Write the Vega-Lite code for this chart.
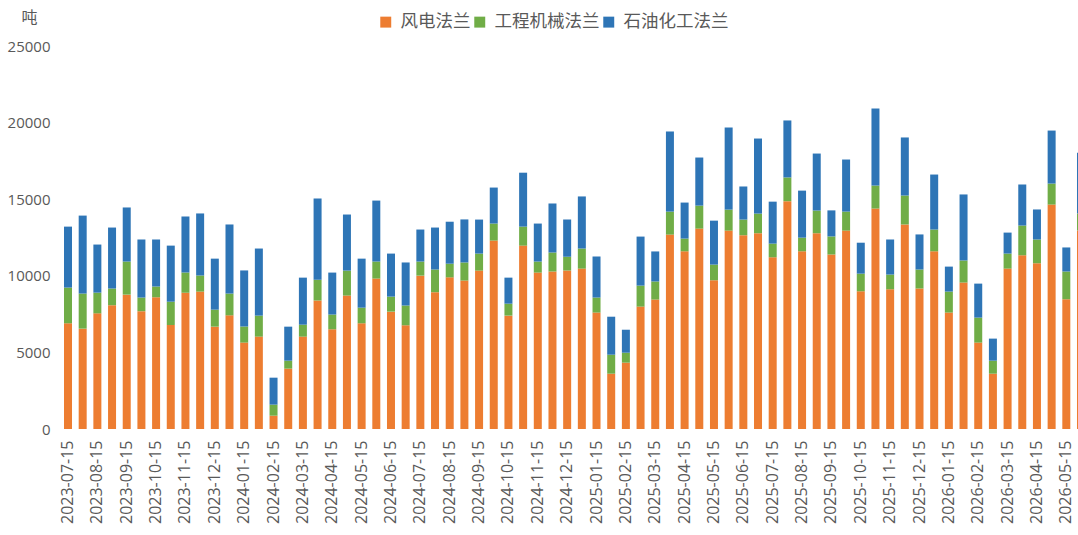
{
  "$schema": "https://vega.github.io/schema/vega-lite/v6.json",
  "autosize": {"type": "none"},
  "padding": {"left": 58, "top": 46, "right": 0, "bottom": 106},
  "width": 1020,
  "height": 383,
  "background": "white",
  "config": {
    "view": {"stroke": null},
    "axis": {"labelColor": "#595959", "labelFont": "Open Sans", "grid": false, "ticks": false, "domain": false}
  },
  "datasets": {
    "series": [
      {"t": "风电法兰", "o": 1},
      {"t": "工程机械法兰", "o": 2},
      {"t": "石油化工法兰", "o": 3}
    ],
    "flange": [
      {"日期": "2023-07-15", "风电法兰": 6900, "工程机械法兰": 2330, "石油化工法兰": 3980},
      {"日期": "2023-07-31", "风电法兰": 6550, "工程机械法兰": 2290, "石油化工法兰": 5090},
      {"日期": "2023-08-15", "风电法兰": 7550, "工程机械法兰": 1350, "石油化工法兰": 3140},
      {"日期": "2023-08-31", "风电法兰": 8080, "工程机械法兰": 1090, "石油化工法兰": 3980},
      {"日期": "2023-09-15", "风电法兰": 8770, "工程机械法兰": 2160, "石油化工法兰": 3530},
      {"日期": "2023-09-30", "风电法兰": 7690, "工程机械法兰": 890, "石油化工法兰": 3790},
      {"日期": "2023-10-15", "风电法兰": 8600, "工程机械法兰": 700, "石油化工法兰": 3070},
      {"日期": "2023-10-31", "风电法兰": 6790, "工程机械法兰": 1520, "石油化工法兰": 3660},
      {"日期": "2023-11-15", "风电法兰": 8900, "工程机械法兰": 1310, "石油化工法兰": 3660},
      {"日期": "2023-11-30", "风电法兰": 8970, "工程机械法兰": 1050, "石油化工法兰": 4050},
      {"日期": "2023-12-15", "风电法兰": 6680, "工程机械法兰": 1110, "石油化工法兰": 3330},
      {"日期": "2023-12-31", "风电法兰": 7420, "工程机械法兰": 1420, "石油化工法兰": 4510},
      {"日期": "2024-01-15", "风电法兰": 5640, "工程机械法兰": 1050, "石油化工法兰": 3660},
      {"日期": "2024-01-31", "风电法兰": 6030, "工程机械法兰": 1370, "石油化工法兰": 4380},
      {"日期": "2024-02-15", "风电法兰": 870, "工程机械法兰": 720, "石油化工法兰": 1760},
      {"日期": "2024-02-29", "风电法兰": 3940, "工程机械法兰": 520, "石油化工法兰": 2220},
      {"日期": "2024-03-15", "风电法兰": 6030, "工程机械法兰": 780, "石油化工法兰": 3070},
      {"日期": "2024-03-31", "风电法兰": 8380, "工程机械法兰": 1370, "石油化工法兰": 5290},
      {"日期": "2024-04-15", "风电法兰": 6510, "工程机械法兰": 960, "石油化工法兰": 2740},
      {"日期": "2024-04-30", "风电法兰": 8710, "工程机械法兰": 1630, "石油化工法兰": 3660},
      {"日期": "2024-05-15", "风电法兰": 6900, "工程机械法兰": 1020, "石油化工法兰": 3200},
      {"日期": "2024-05-31", "风电法兰": 9820, "工程机械法兰": 1110, "石油化工法兰": 3980},
      {"日期": "2024-06-15", "风电法兰": 7660, "工程机械法兰": 980, "石油化工法兰": 2810},
      {"日期": "2024-06-30", "风电法兰": 6770, "工程机械法兰": 1290, "石油化工法兰": 2810},
      {"日期": "2024-07-15", "风电法兰": 10010, "工程机械法兰": 920, "石油化工法兰": 2090},
      {"日期": "2024-07-31", "风电法兰": 8930, "工程机械法兰": 1480, "石油化工法兰": 2740},
      {"日期": "2024-08-15", "风电法兰": 9900, "工程机械法兰": 890, "石油化工法兰": 2740},
      {"日期": "2024-08-31", "风电法兰": 9690, "工程机械法兰": 1180, "石油化工法兰": 2810},
      {"日期": "2024-09-15", "风电法兰": 10340, "工程机械法兰": 1110, "石油化工法兰": 2220},
      {"日期": "2024-09-30", "风电法兰": 12300, "工程机械法兰": 1110, "石油化工法兰": 2350},
      {"日期": "2024-10-15", "风电法兰": 7400, "工程机械法兰": 780, "石油化工法兰": 1700},
      {"日期": "2024-10-31", "风电法兰": 11970, "工程机械法兰": 1240, "石油化工法兰": 3520},
      {"日期": "2024-11-15", "风电法兰": 10210, "工程机械法兰": 720, "石油化工法兰": 2480},
      {"日期": "2024-11-30", "风电法兰": 10280, "工程机械法兰": 1240, "石油化工法兰": 3200},
      {"日期": "2024-12-15", "风电法兰": 10340, "工程机械法兰": 910, "石油化工法兰": 2420},
      {"日期": "2024-12-31", "风电法兰": 10470, "工程机械法兰": 1310, "石油化工法兰": 3400},
      {"日期": "2025-01-15", "风电法兰": 7600, "工程机械法兰": 980, "石油化工法兰": 2680},
      {"日期": "2025-01-31", "风电法兰": 3610, "工程机械法兰": 1240, "石油化工法兰": 2480},
      {"日期": "2025-02-15", "风电法兰": 4330, "工程机械法兰": 650, "石油化工法兰": 1500},
      {"日期": "2025-02-28", "风电法兰": 7990, "工程机械法兰": 1370, "石油化工法兰": 3200},
      {"日期": "2025-03-15", "风电法兰": 8450, "工程机械法兰": 1180, "石油化工法兰": 1960},
      {"日期": "2025-03-31", "风电法兰": 12690, "工程机械法兰": 1500, "石油化工法兰": 5230},
      {"日期": "2025-04-15", "风电法兰": 11600, "工程机械法兰": 830, "石油化工法兰": 2350},
      {"日期": "2025-04-30", "风电法兰": 13080, "工程机械法兰": 1500, "石油化工法兰": 3140},
      {"日期": "2025-05-15", "风电法兰": 9710, "工程机械法兰": 1020, "石油化工法兰": 2870},
      {"日期": "2025-05-31", "风电法兰": 12950, "工程机械法兰": 1370, "石油化工法兰": 5360},
      {"日期": "2025-06-15", "风电法兰": 12650, "工程机械法兰": 1020, "石油化工法兰": 2160},
      {"日期": "2025-06-30", "风电法兰": 12780, "工程机械法兰": 1280, "石油化工法兰": 4900},
      {"日期": "2025-07-15", "风电法兰": 11210, "工程机械法兰": 890, "石油化工法兰": 2740},
      {"日期": "2025-07-31", "风电法兰": 14870, "工程机械法兰": 1550, "石油化工法兰": 3720},
      {"日期": "2025-08-15", "风电法兰": 11600, "工程机械法兰": 890, "石油化工法兰": 3070},
      {"日期": "2025-08-31", "风电法兰": 12780, "工程机械法兰": 1480, "石油化工法兰": 3720},
      {"日期": "2025-09-15", "风电法兰": 11390, "工程机械法兰": 1180, "石油化工法兰": 1700},
      {"日期": "2025-09-30", "风电法兰": 12950, "工程机械法兰": 1240, "石油化工法兰": 3400},
      {"日期": "2025-10-15", "风电法兰": 8990, "工程机械法兰": 1150, "石油化工法兰": 2020},
      {"日期": "2025-10-31", "风电法兰": 14390, "工程机械法兰": 1500, "石油化工法兰": 5030},
      {"日期": "2025-11-15", "风电法兰": 9120, "工程机械法兰": 960, "石油化工法兰": 2290},
      {"日期": "2025-11-30", "风电法兰": 13350, "工程机械法兰": 1890, "石油化工法兰": 3790},
      {"日期": "2025-12-15", "风电法兰": 9170, "工程机械法兰": 1240, "石油化工法兰": 2290},
      {"日期": "2025-12-31", "风电法兰": 11600, "工程机械法兰": 1420, "石油化工法兰": 3590},
      {"日期": "2026-01-15", "风电法兰": 7600, "工程机械法兰": 1370, "石油化工法兰": 1630},
      {"日期": "2026-01-31", "风电法兰": 9560, "工程机械法兰": 1440, "石油化工法兰": 4310},
      {"日期": "2026-02-15", "风电法兰": 5640, "工程机械法兰": 1630, "石油化工法兰": 2220},
      {"日期": "2026-02-28", "风电法兰": 3610, "工程机械法兰": 850, "石油化工法兰": 1440},
      {"日期": "2026-03-15", "风电法兰": 10470, "工程机械法兰": 980, "石油化工法兰": 1370},
      {"日期": "2026-03-31", "风电法兰": 11340, "工程机械法兰": 1940, "石油化工法兰": 2680},
      {"日期": "2026-04-15", "风电法兰": 10820, "工程机械法兰": 1550, "石油化工法兰": 1960},
      {"日期": "2026-04-30", "风电法兰": 14650, "工程机械法兰": 1370, "石油化工法兰": 3460},
      {"日期": "2026-05-15", "风电法兰": 8470, "工程机械法兰": 1810, "石油化工法兰": 1570},
      {"日期": "2026-05-31", "风电法兰": 12950, "工程机械法兰": 1110, "石油化工法兰": 3980}
    ]
  },
  "data": {"name": "flange"},
  "transform": [
    {"fold": ["风电法兰", "工程机械法兰", "石油化工法兰"], "as": ["t", "v"]},
    {"lookup": "t", "from": {"data": {"name": "series"}, "key": "t", "fields": ["o"]}}
  ],
  "mark": {"type": "bar", "clip": true},
  "encoding": {
    "x": {
      "field": "日期",
      "type": "ordinal",
      "scale": {"type": "band", "range": [0, 1033], "paddingInner": 0.455, "paddingOuter": 0.409},
      "axis": {
        "title": null,
        "labelAngle": -90,
        "labelFontSize": 16,
        "labelPadding": 11,
        "labelOverlap": false,
        "labelExpr": "slice(datum.value, 8) == '15' ? datum.value : ''"
      }
    },
    "y": {
      "field": "v",
      "type": "quantitative",
      "stack": "zero",
      "scale": {"domain": [0, 25000], "nice": false},
      "axis": {
        "values": [0, 5000, 10000, 15000, 20000, 25000],
        "format": "d",
        "labelFontSize": 15,
        "labelPadding": 8,
        "title": "吨",
        "titleAngle": 0,
        "titleX": -29,
        "titleY": -29,
        "titleAlign": "center",
        "titleBaseline": "middle",
        "titleFont": "Noto Sans CJK SC",
        "titleFontSize": 16,
        "titleFontWeight": "normal",
        "titleColor": "#595959"
      }
    },
    "color": {
      "field": "t",
      "type": "nominal",
      "scale": {
        "domain": ["风电法兰", "工程机械法兰", "石油化工法兰"],
        "range": ["#ED7D31", "#70AD47", "#2E75B6"]
      },
      "legend": {
        "title": null,
        "orient": "none",
        "direction": "horizontal",
        "legendX": 319,
        "legendY": -33,
        "symbolType": "square",
        "symbolSize": 120,
        "symbolStrokeWidth": 0,
        "labelFont": "Noto Sans CJK SC",
        "labelFontSize": 17.5,
        "labelColor": "#595959",
        "labelOffset": 6,
        "columnPadding": -8
      }
    },
    "order": {"field": "o", "type": "quantitative", "sort": "ascending"}
  }
}
